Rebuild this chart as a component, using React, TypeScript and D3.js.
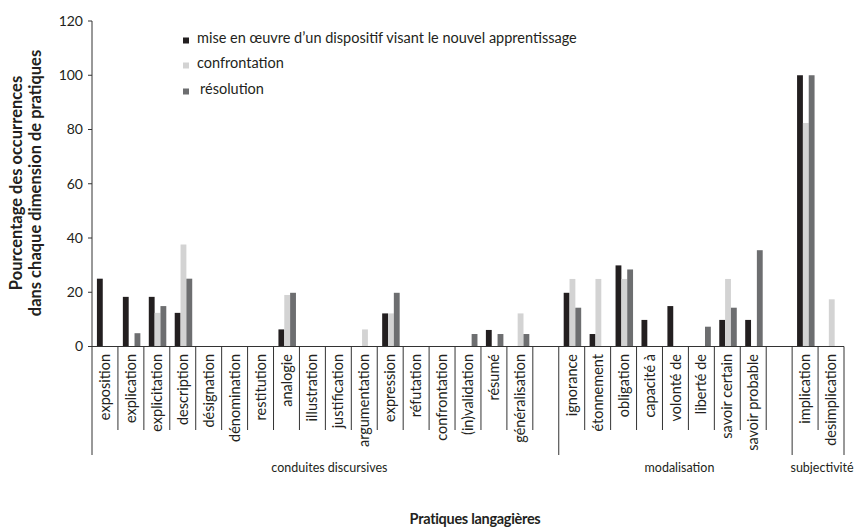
import React from "react";
import * as d3 from "d3";

const categories = [
  "exposition", "explication", "explicitation", "description", "désignation", "dénomination",
  "restitution", "analogie", "illustration", "justification", "argumentation", "expression",
  "réfutation", "confrontation", "(in)validation", "résumé", "généralisation", "",
  "ignorance", "étonnement", "obligation", "capacité à", "volonté de", "liberté de",
  "savoir certain", "savoir probable", "",
  "implication", "desimplication",
];
const groupNames = ["conduites discursives", "modalisation", "subjectivité"];
const groupSizes = [18, 9, 2];

const seriesNames = [
  "mise en œuvre d’un dispositif visant le nouvel apprentissage",
  "confrontation",
  "résolution",
];
const miseEnOeuvre = [25, 18.3, 18.3, 12.4, 0, 0, 0, 6.3, 0, 0, 0, 12.2, 0, 0, 0, 6.1, 0, 0,
  19.8, 4.6, 29.9, 9.8, 14.9, 0, 9.8, 9.8, 0, 100, 0];
const confrontation = [0, 0, 12.4, 37.6, 0, 0, 0, 19.0, 0, 0, 6.3, 12.2, 0, 0, 0, 0, 12.2, 0,
  24.9, 24.9, 24.9, 0, 0, 0, 24.9, 0, 0, 82.4, 17.4];
const resolution = [0, 4.9, 14.9, 25, 0, 0, 0, 19.8, 0, 0, 0, 19.8, 0, 0, 4.6, 4.6, 4.6, 0,
  14.3, 0, 28.4, 0, 0, 7.3, 14.3, 35.5, 0, 100, 0];
const yTicks = [0, 20, 40, 60, 80, 100, 120];

const colors = ["#231f20", "#d3d3d3", "#6d6e70"];
const FONT = "Lato, 'Open Sans', sans-serif";

export default function App() {
  const W = 854, H = 527;
  const left = 92, right = 844, top = 21, base = 346.5;
  const x = d3.scaleBand<number>().domain(d3.range(categories.length)).range([left, right]).padding(0);
  const y = d3.scaleLinear().domain([0, 120]).range([base, top]);
  const bw = x.bandwidth();
  const series = [miseEnOeuvre, confrontation, resolution];

  const groupStarts: number[] = [];
  let acc = 0;
  groupSizes.forEach((s) => { groupStarts.push(acc); acc += s; });

  const textCol = "#231f20";

  return (
    <svg width={W} height={H} style={{ position: "absolute", left: 0, top: 0, background: "#fff" }}
      fontFamily={FONT}>
      {series.map((vals, k) =>
        vals.map((v, i) =>
          v > 0 ? (
            <rect key={`b${k}-${i}`} x={(x(i) as number) + bw * 0.19 + k * bw * 0.225}
              y={y(v)} width={bw * 0.225} height={y(0) - y(v)} fill={colors[k]} />
          ) : null
        )
      )}
      <line x1={left} x2={left} y1={top} y2={455} stroke="#333" strokeWidth={1} />
      {yTicks.map((t) => (
        <g key={`yt${t}`}>
          <line x1={left - 4} x2={left} y1={y(t)} y2={y(t)} stroke="#333" />
          <text x={83} y={y(t)} dy="0.35em" textAnchor="end" fontSize={14} fill={textCol}>{t}</text>
        </g>
      ))}
      <line x1={left} x2={right} y1={base} y2={base} stroke="#333" strokeWidth={1} />
      {categories.map((c, i) => {
        if (i === 0) return null;
        const xx = x(i) as number;
        const isGroup = groupStarts.includes(i);
        return <line key={`sep${i}`} x1={xx} x2={xx} y1={base} y2={isGroup ? 455 : 430} stroke="#333" />;
      })}
      <line x1={right} x2={right} y1={base} y2={455} stroke="#333" />
      {categories.map((c, i) => {
        const cx = (x(i) as number) + bw / 2;
        return c ? (
          <text key={`cl${i}`} transform={`translate(${cx},354) rotate(-90)`} textAnchor="end"
            dy="0.35em" fontSize={14.5} fill={textCol}>{c}</text>
        ) : null;
      })}
      {groupNames.map((g, gi) => {
        const s = groupStarts[gi];
        const x0 = x(s) as number;
        const x1 = (x(s + groupSizes[gi] - 1) as number) + bw;
        return (
          <text key={`g${gi}`} x={(x0 + x1) / 2 + 4} y={472} textAnchor="middle" fontSize={12.5} fill={textCol}>{g}</text>
        );
      })}
      {seriesNames.map((n, k) => {
        const ly = [43, 68, 94][k];
        return (
          <g key={`lg${k}`}>
            <rect x={183} y={ly - 5.5} width={6} height={6} fill={colors[k]} />
            <text x={k === 2 ? 200 : 197} y={ly} fontSize={14.5} fill={textCol}>{n}</text>
          </g>
        );
      })}
      <text transform={`translate(22,183) rotate(-90)`} textAnchor="middle" fontSize={16.5} fontWeight="bold" fill={textCol}>
        Pourcentage des occurrences
      </text>
      <text transform={`translate(41,183) rotate(-90)`} textAnchor="middle" fontSize={16.5} fontWeight="bold" fill={textCol}>
        dans chaque dimension de pratiques
      </text>
      <text x={475} y={524} textAnchor="middle" fontSize={14.5} letterSpacing={-0.3} fontWeight="bold" fill={textCol}>Pratiques langagières</text>
    </svg>
  );
}
